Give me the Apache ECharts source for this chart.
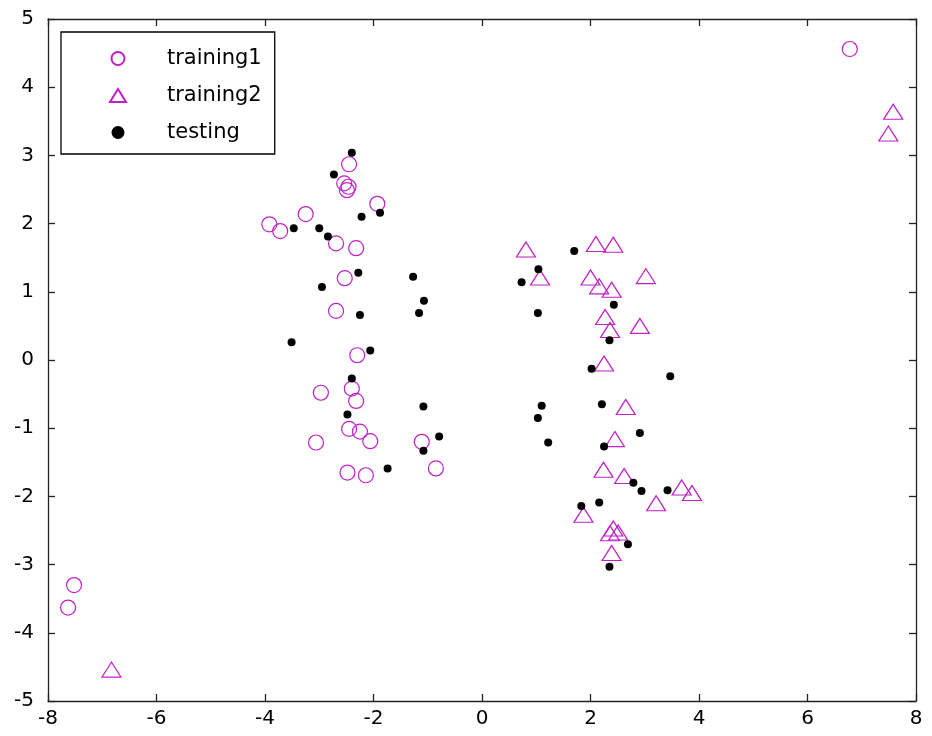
<!DOCTYPE html>
<html>
<head>
<meta charset="utf-8">
<script src="https://cdn.jsdelivr.net/npm/echarts@6/dist/echarts.min.js"></script>
<style>
  html, body { margin: 0; padding: 0; background: #fff; }
  #chart { width: 932px; height: 736px; }
</style>
</head>
<body>
<div id="chart"></div>
<script>
// points, [x, y]
var training1 = [
    [6.78, 4.56], [-7.52, -3.30], [-7.63, -3.63],
    [-2.45, 2.87], [-2.54, 2.59], [-2.46, 2.54], [-2.49, 2.49],
    [-1.93, 2.29], [-3.25, 2.14], [-3.92, 1.99], [-3.72, 1.89],
    [-2.69, 1.71], [-2.32, 1.64], [-2.53, 1.20], [-2.69, 0.72],
    [-2.30, 0.07], [-2.97, -0.48], [-2.40, -0.42], [-2.32, -0.60],
    [-2.45, -1.01], [-2.25, -1.05], [-2.06, -1.19], [-3.06, -1.21],
    [-1.11, -1.20], [-0.85, -1.59], [-2.48, -1.65], [-2.14, -1.69]
];
var training2 = [
    [7.58, 3.64], [7.49, 3.32], [-6.83, -4.54],
    [0.81, 1.62], [2.10, 1.70], [2.42, 1.69], [1.07, 1.21],
    [2.00, 1.21], [2.16, 1.08], [2.39, 1.03], [3.02, 1.23],
    [2.27, 0.63], [2.36, 0.44], [2.91, 0.50], [2.25, -0.05],
    [2.65, -0.69], [2.45, -1.16], [2.24, -1.61], [2.62, -1.70],
    [3.68, -1.87], [3.87, -1.95], [3.21, -2.10], [1.87, -2.27],
    [2.42, -2.47], [2.36, -2.54], [2.51, -2.53], [2.39, -2.83]
];
var testing = [
    [-2.40, 3.04], [-2.73, 2.72], [-2.22, 2.10], [-1.88, 2.16],
    [-3.47, 1.93], [-3.00, 1.93], [-2.84, 1.81], [-2.28, 1.28],
    [-1.27, 1.22], [-1.07, 0.87], [-1.16, 0.69], [-2.95, 1.07],
    [-2.25, 0.66], [-3.51, 0.26], [-2.06, 0.14], [-2.40, -0.27],
    [-2.48, -0.80], [-1.08, -0.68], [-0.79, -1.12], [-1.08, -1.33],
    [-1.74, -1.59],
    [1.70, 1.60], [1.04, 1.33], [0.73, 1.14], [2.43, 0.81],
    [1.03, 0.69], [2.35, 0.29], [2.02, -0.13], [3.47, -0.24],
    [2.21, -0.65], [1.10, -0.67], [1.03, -0.85], [1.22, -1.21],
    [2.91, -1.07], [2.25, -1.27], [2.79, -1.80], [2.94, -1.92],
    [3.42, -1.91], [1.83, -2.14], [2.16, -2.09], [2.69, -2.70],
    [2.35, -3.03]
];

var magenta = '#c020c8';
var axisColor = '#222';
var fontName = 'DejaVu Sans';

var chart = echarts.init(document.getElementById('chart'));

function axisCommon(extra) {
    var a = {
        axisLine: { onZero: false, lineStyle: { color: axisColor, width: 1.3 } },
        axisTick: { inside: true, length: 7, lineStyle: { color: axisColor, width: 1.3 } },
        splitLine: { show: false },
        axisLabel: { color: '#000', fontFamily: fontName, fontSize: 20 }
    };
    for (var k in extra) a[k] = extra[k];
    return a;
}

var option = {
    backgroundColor: '#fff',
    animation: false,
    grid: { left: 48, right: 16, top: 19, bottom: 35 },
    legend: {
        data: ['training1', 'training2', 'testing'],
        orient: 'vertical',
        left: 61,
        top: 32,
        padding: [16, 13, 11, 48],
        itemWidth: 16,
        itemHeight: 13,
        itemGap: 16,
        borderColor: '#000',
        borderWidth: 1.3,
        backgroundColor: '#fff',
        textStyle: { color: '#000', fontFamily: fontName, fontSize: 21, padding: [0, 0, 0, 36] }
    },
    xAxis: [
        axisCommon({ type: 'value', min: -8, max: 8, interval: 2, position: 'bottom',
            axisLabel: { color: '#000', fontFamily: fontName, fontSize: 20, margin: 8 } }),
        axisCommon({ type: 'value', min: -8, max: 8, interval: 2, position: 'top',
            axisLabel: { show: false } })
    ],
    yAxis: [
        axisCommon({ type: 'value', min: -5, max: 5, interval: 1, position: 'left',
            axisLabel: { color: '#000', fontFamily: fontName, fontSize: 20, margin: 14 } }),
        axisCommon({ type: 'value', min: -5, max: 5, interval: 1, position: 'right',
            axisLabel: { show: false } })
    ],
    series: [
        {
            name: 'training1',
            type: 'scatter',
            symbol: 'circle',
            symbolSize: 15,
            data: training1,
            itemStyle: { color: 'rgba(255,255,255,0)', borderColor: magenta, borderWidth: 1.2, opacity: 1 }
        },
        {
            name: 'training2',
            type: 'scatter',
            symbol: 'triangle',
            symbolSize: [19, 15],
            data: training2,
            itemStyle: { color: 'rgba(255,255,255,0)', borderColor: magenta, borderWidth: 1.2, opacity: 1 }
        },
        {
            name: 'testing',
            type: 'scatter',
            symbol: 'circle',
            symbolSize: 8,
            data: testing,
            itemStyle: { color: '#000', opacity: 1 }
        }
    ]
};

chart.setOption(option);
</script>
</body>
</html>
